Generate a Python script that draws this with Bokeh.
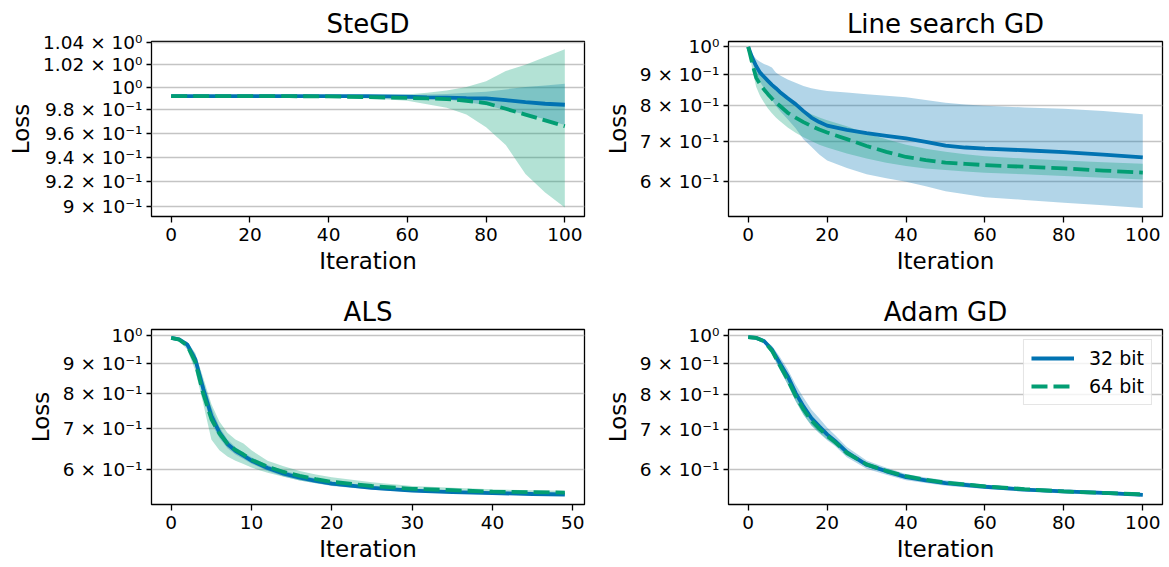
from bokeh.plotting import figure
from bokeh.layouts import gridplot
from bokeh.models import Range1d, FixedTicker
from bokeh.embed import file_html
from bokeh.resources import INLINE

BLUE = "#0173b2"
GREEN = "#029e73"
FONT = "DejaVu Sans"

series_labels = ["32 bit", "64 bit"]
x_label = "Iteration"
y_label = "Loss"

# ---------------- SteGD ----------------
ste_title = "SteGD"
ste_x = [0, 10, 20, 30, 40, 50, 55, 60, 65, 70, 75, 80, 85, 90, 95, 100]
ste_32_mean = [0.992, 0.992, 0.992, 0.992, 0.992, 0.992, 0.9918, 0.9915, 0.991, 0.9907, 0.9903, 0.990, 0.9885, 0.9868, 0.9854, 0.9845]
ste_32_lo = [0.9917, 0.9917, 0.9917, 0.9917, 0.9916, 0.9914, 0.9912, 0.991, 0.990, 0.989, 0.987, 0.984, 0.980, 0.976, 0.972, 0.967]
ste_32_hi = [0.9923, 0.9923, 0.9923, 0.9923, 0.9924, 0.9925, 0.9927, 0.993, 0.9935, 0.994, 0.995, 0.996, 0.998, 1.000, 1.0015, 1.003]
ste_64_mean = [0.992, 0.992, 0.992, 0.992, 0.9918, 0.9912, 0.9908, 0.9905, 0.990, 0.9895, 0.988, 0.986, 0.981, 0.976, 0.971, 0.966]
ste_64_lo = [0.9915, 0.9915, 0.9915, 0.9914, 0.9912, 0.990, 0.989, 0.988, 0.985, 0.982, 0.976, 0.965, 0.950, 0.926, 0.911, 0.899]
ste_64_hi = [0.9925, 0.9925, 0.9925, 0.9925, 0.9926, 0.993, 0.9932, 0.9935, 0.995, 0.997, 1.000, 1.0053, 1.0143, 1.020, 1.027, 1.034]
ste_yticks = [0.90, 0.92, 0.94, 0.96, 0.98, 1.00, 1.02, 1.04]
ste_ytick_labels = ["9 × 10⁻¹", "9.2 × 10⁻¹", "9.4 × 10⁻¹", "9.6 × 10⁻¹",
                    "9.8 × 10⁻¹", "10⁰", "1.02 × 10⁰", "1.04 × 10⁰"]

# ---------------- Line search GD ----------------
ls_title = "Line search GD"
ls_x = [0, 1, 2, 3, 4, 5, 6, 7, 8, 10, 12, 14, 16, 18, 20, 25, 30, 35, 40, 45, 50, 55, 60, 70, 80, 90, 100]
ls_32_mean = [1.0, 0.96, 0.93, 0.907, 0.893, 0.879, 0.866, 0.855, 0.843, 0.823, 0.805, 0.784, 0.765, 0.752, 0.742,
              0.730, 0.721, 0.714, 0.707, 0.698, 0.688, 0.683, 0.680, 0.676, 0.671, 0.665, 0.658]
ls_32_lo = [1.0, 0.945, 0.905, 0.875, 0.855, 0.835, 0.818, 0.800, 0.785, 0.760, 0.735, 0.705, 0.685, 0.665, 0.650,
            0.632, 0.617, 0.608, 0.600, 0.590, 0.579, 0.572, 0.566, 0.560, 0.554, 0.549, 0.543]
ls_32_hi = [1.0, 0.975, 0.955, 0.945, 0.937, 0.932, 0.925, 0.907, 0.898, 0.884, 0.873, 0.862, 0.855, 0.850, 0.846,
            0.841, 0.836, 0.831, 0.826, 0.818, 0.809, 0.804, 0.800, 0.795, 0.791, 0.784, 0.775]
ls_64_mean = [1.0, 0.94, 0.89, 0.868, 0.851, 0.836, 0.822, 0.810, 0.800, 0.779, 0.765, 0.752, 0.741, 0.731, 0.723,
              0.705, 0.687, 0.672, 0.659, 0.651, 0.645, 0.642, 0.639, 0.635, 0.631, 0.626, 0.621]
ls_64_lo = [1.0, 0.92, 0.86, 0.83, 0.81, 0.792, 0.778, 0.765, 0.755, 0.737, 0.722, 0.710, 0.700, 0.690, 0.683,
            0.668, 0.655, 0.645, 0.637, 0.631, 0.627, 0.624, 0.621, 0.617, 0.613, 0.609, 0.605]
ls_64_hi = [1.0, 0.96, 0.925, 0.905, 0.89, 0.878, 0.866, 0.853, 0.842, 0.822, 0.803, 0.787, 0.775, 0.765, 0.757,
            0.740, 0.720, 0.705, 0.690, 0.680, 0.672, 0.666, 0.661, 0.655, 0.650, 0.646, 0.642]

# ---------------- ALS ----------------
als_title = "ALS"
als_x = [0, 1, 2, 3, 4, 5, 6, 7, 8, 9, 10, 12, 14, 16, 18, 20, 25, 30, 35, 40, 45, 49]
als_32_mean = [0.991, 0.985, 0.966, 0.913, 0.815, 0.736, 0.691, 0.661, 0.644, 0.632, 0.620, 0.603, 0.590, 0.581,
               0.574, 0.568, 0.559, 0.553, 0.550, 0.548, 0.546, 0.545]
als_32_lo = [0.990, 0.982, 0.958, 0.895, 0.790, 0.715, 0.676, 0.650, 0.635, 0.624, 0.613, 0.596, 0.584, 0.575,
             0.569, 0.563, 0.555, 0.550, 0.547, 0.545, 0.543, 0.542]
als_32_hi = [0.992, 0.988, 0.975, 0.930, 0.840, 0.760, 0.705, 0.672, 0.653, 0.640, 0.628, 0.610, 0.597, 0.587,
             0.580, 0.573, 0.563, 0.556, 0.553, 0.551, 0.549, 0.548]
als_64_mean = [0.991, 0.984, 0.962, 0.903, 0.800, 0.727, 0.688, 0.662, 0.646, 0.635, 0.622, 0.606, 0.594, 0.585,
               0.578, 0.572, 0.563, 0.557, 0.554, 0.551, 0.550, 0.549]
als_64_lo = [0.990, 0.979, 0.948, 0.875, 0.770, 0.672, 0.645, 0.630, 0.620, 0.612, 0.604, 0.592, 0.583, 0.575,
             0.569, 0.564, 0.556, 0.551, 0.548, 0.546, 0.545, 0.545]
als_64_hi = [0.992, 0.988, 0.975, 0.935, 0.850, 0.770, 0.720, 0.690, 0.672, 0.662, 0.645, 0.620, 0.607, 0.596,
             0.588, 0.582, 0.571, 0.563, 0.559, 0.556, 0.554, 0.553]

# ---------------- Adam GD ----------------
adam_title = "Adam GD"
adam_x = [0, 2, 4, 6, 8, 10, 12, 14, 16, 18, 20, 22, 25, 30, 35, 40, 45, 50, 60, 70, 80, 90, 100]
adam_32_mean = [0.994, 0.991, 0.979, 0.948, 0.901, 0.857, 0.804, 0.764, 0.731, 0.708, 0.687, 0.670, 0.642, 0.612,
                0.597, 0.584, 0.577, 0.571, 0.563, 0.557, 0.553, 0.550, 0.546]
adam_32_lo = [0.993, 0.989, 0.973, 0.932, 0.878, 0.830, 0.780, 0.740, 0.710, 0.690, 0.672, 0.657, 0.630, 0.603,
              0.589, 0.577, 0.571, 0.565, 0.558, 0.553, 0.549, 0.546, 0.543]
adam_32_hi = [0.995, 0.993, 0.984, 0.962, 0.922, 0.880, 0.830, 0.790, 0.755, 0.730, 0.705, 0.685, 0.655, 0.622,
              0.605, 0.591, 0.583, 0.577, 0.568, 0.561, 0.557, 0.554, 0.550]
adam_64_mean = [0.994, 0.991, 0.978, 0.944, 0.893, 0.846, 0.795, 0.755, 0.724, 0.702, 0.683, 0.667, 0.640, 0.613,
                0.598, 0.586, 0.578, 0.572, 0.564, 0.558, 0.553, 0.550, 0.547]
adam_64_lo = [0.993, 0.990, 0.975, 0.933, 0.880, 0.830, 0.780, 0.740, 0.711, 0.691, 0.674, 0.660, 0.634, 0.608,
              0.594, 0.583, 0.575, 0.569, 0.562, 0.556, 0.551, 0.548, 0.545]
adam_64_hi = [0.995, 0.992, 0.981, 0.955, 0.905, 0.860, 0.810, 0.770, 0.737, 0.713, 0.692, 0.674, 0.646, 0.618,
              0.602, 0.589, 0.581, 0.575, 0.566, 0.560, 0.555, 0.552, 0.549]

std_yticks = [0.6, 0.7, 0.8, 0.9, 1.0]
std_ytick_labels = ["6 × 10⁻¹", "7 × 10⁻¹", "8 × 10⁻¹", "9 × 10⁻¹", "10⁰"]

xticks_100 = [0, 20, 40, 60, 80, 100]
xticks_50 = [0, 10, 20, 30, 40, 50]


def make_panel(title, width, height, mbl, mbr, mbt, mbb, xr, yr, xticks, yticks, ylabels,
               x, m32, lo32, hi32, m64, lo64, hi64, legend=False):
    p = figure(width=width, height=height, x_range=Range1d(*xr), y_range=Range1d(*yr),
               y_axis_type="log", output_backend="svg", toolbar_location=None,
               min_border_left=mbl, min_border_right=mbr, min_border_top=mbt, min_border_bottom=mbb,
               title=title)
    p.background_fill_color = "white"
    p.border_fill_color = "white"
    p.outline_line_color = "black"
    p.outline_line_width = 1.3
    p.outline_line_alpha = 1.0

    p.title.text_font = FONT
    p.title.text_font_size = "26px"
    p.title.text_font_style = "normal"
    p.title.text_color = "black"
    p.title.align = "center"
    p.title.standoff = 6

    p.xaxis.ticker = FixedTicker(ticks=xticks, minor_ticks=[])
    p.yaxis.ticker = FixedTicker(ticks=yticks, minor_ticks=[])
    p.yaxis.major_label_overrides = {t: l for t, l in zip(yticks, ylabels)}

    for ax in (p.xaxis[0], p.yaxis[0]):
        ax.axis_line_color = None
        ax.major_tick_line_color = "black"
        ax.major_tick_line_width = 1.3
        ax.major_tick_in = 0
        ax.minor_tick_line_color = None
        ax.major_label_text_font = FONT
        ax.major_label_text_font_size = "18.5px"
        ax.major_label_text_color = "black"
        ax.axis_label_text_font = FONT
        ax.axis_label_text_font_size = "23px"
        ax.axis_label_text_font_style = "normal"
        ax.axis_label_text_color = "black"
    p.xaxis.major_tick_out = 6
    p.yaxis.major_tick_out = 5
    p.xaxis.major_label_standoff = 5
    p.yaxis.major_label_standoff = 4
    p.xaxis.axis_label = x_label
    p.yaxis.axis_label = y_label
    p.xaxis.axis_label_standoff = 4
    p.yaxis.axis_label_standoff = 6

    p.xgrid.grid_line_color = None
    p.ygrid.grid_line_color = "#c4c4c4"
    p.ygrid.grid_line_width = 1.3

    p.varea(x=x, y1=lo32, y2=hi32, fill_color=BLUE, fill_alpha=0.3)
    p.varea(x=x, y1=lo64, y2=hi64, fill_color=GREEN, fill_alpha=0.3)
    if legend:
        p.line(x, m32, line_color=BLUE, line_width=3.8, legend_label=series_labels[0])
        p.line(x, m64, line_color=GREEN, line_width=3.8, line_dash="16 6", legend_label=series_labels[1])
        lg = p.legend[0]
        lg.location = "top_right"
        lg.margin = 10
        lg.padding = 7
        lg.spacing = 6
        lg.glyph_width = 43
        lg.glyph_height = 20
        lg.label_standoff = 15
        lg.label_text_font = FONT
        lg.label_text_font_size = "19px"
        lg.label_text_color = "black"
        lg.border_line_color = "#cccccc"
        lg.border_line_width = 1
        lg.background_fill_alpha = 0.8
    else:
        p.line(x, m32, line_color=BLUE, line_width=3.8)
        p.line(x, m64, line_color=GREEN, line_width=3.8, line_dash="16 6")
    return p


W1, W2 = 594, 575
H1, H2 = 286, 281

p1 = make_panel(ste_title, W1, H1, 151, 10, 41, 70, (-5, 105), (0.8918, 1.0412), xticks_100,
                ste_yticks, ste_ytick_labels, ste_x, ste_32_mean, ste_32_lo, ste_32_hi,
                ste_64_mean, ste_64_lo, ste_64_hi)
p2 = make_panel(ls_title, W2, H1, 134, 7, 41, 70, (-5, 105), (0.526, 1.0204), xticks_100,
                std_yticks, std_ytick_labels, ls_x, ls_32_mean, ls_32_lo, ls_32_hi,
                ls_64_mean, ls_64_lo, ls_64_hi)
p3 = make_panel(als_title, W1, H2, 151, 10, 43, 63, (-2.45, 51.45), (0.5246, 1.023), xticks_50,
                std_yticks, std_ytick_labels, als_x, als_32_mean, als_32_lo, als_32_hi,
                als_64_mean, als_64_lo, als_64_hi)
p4 = make_panel(adam_title, W2, H2, 134, 7, 43, 63, (-5, 105), (0.5263, 1.023), xticks_100,
                std_yticks, std_ytick_labels, adam_x, adam_32_mean, adam_32_lo, adam_32_hi,
                adam_64_mean, adam_64_lo, adam_64_hi, legend=True)

grid = gridplot([[p1, p2], [p3, p4]], toolbar_location=None)

with open("out.html", "w") as f:
    f.write(file_html(grid, INLINE))
